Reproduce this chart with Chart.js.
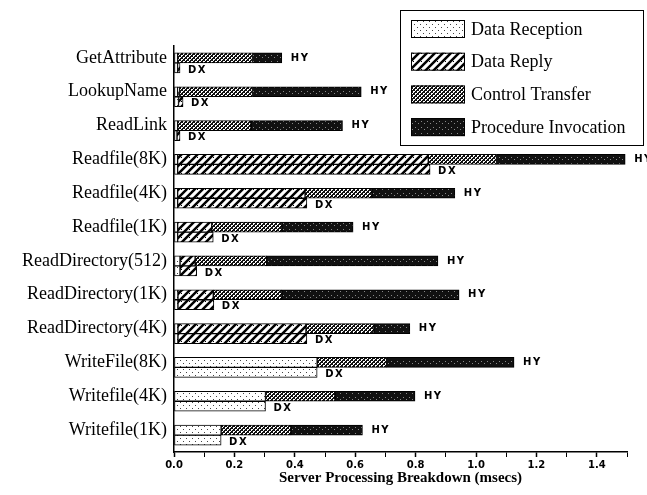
<!DOCTYPE html>
<html>
<head>
<meta charset="utf-8">
<script src="https://cdn.jsdelivr.net/npm/chart.js@4.4.1/dist/chart.umd.min.js"></script>
<style>
  body { margin: 0; background: #fff; }
  #grafico { display: block; }
</style>
</head>
<body>
<canvas id="grafico" width="647" height="495"></canvas>
<script>
// categorias (de cima para baixo)
const categorias = ['GetAttribute', 'LookupName', 'ReadLink', 'Readfile(8K)', 'Readfile(4K)', 'Readfile(1K)',
    'ReadDirectory(512)', 'ReadDirectory(1K)', 'ReadDirectory(4K)', 'WriteFile(8K)', 'Writefile(4K)', 'Writefile(1K)'];

// barra HY (msecs por componente)
const hyRecepcao = [0.012, 0.012, 0.012, 0.012, 0.012, 0.012, 0.020, 0.013, 0.013, 0.474, 0.303, 0.156];
const hyResposta = [0, 0.006, 0, 0.830, 0.422, 0.113, 0.050, 0.117, 0.424, 0, 0, 0];
const hyControle = [0.248, 0.242, 0.243, 0.226, 0.221, 0.232, 0.237, 0.227, 0.225, 0.230, 0.230, 0.231];
const hyProcedimento = [0.097, 0.360, 0.303, 0.426, 0.275, 0.236, 0.567, 0.587, 0.119, 0.422, 0.265, 0.237];

// barra DX
const dxRecepcao = [0.012, 0.015, 0.010, 0.012, 0.012, 0.012, 0.020, 0.013, 0.013, 0.474, 0.303, 0.156];
const dxResposta = [0.008, 0.015, 0.010, 0.836, 0.428, 0.118, 0.055, 0.119, 0.427, 0, 0, 0];

const nomesLegenda = ['Data Reception', 'Data Reply', 'Control Transfer', 'Procedure Invocation'];

function criarPadrao(tam, desenhar) {
    const c = document.createElement('canvas');
    c.width = tam;
    c.height = tam;
    const g = c.getContext('2d');
    desenhar(g, tam);
    return g.createPattern(c, 'repeat');
}

const padRecepcao = criarPadrao(6, (g) => {
    g.fillStyle = '#fff';
    g.fillRect(0, 0, 6, 6);
    g.fillStyle = '#444';
    g.fillRect(0, 0, 1, 1);
    g.fillRect(3, 3, 1, 1);
});
const padResposta = criarPadrao(8, (g) => {
    g.fillStyle = '#fff';
    g.fillRect(0, 0, 8, 8);
    g.strokeStyle = '#000';
    g.lineWidth = 2.5;
    g.beginPath();
    g.moveTo(-1, 9); g.lineTo(9, -1);
    g.moveTo(-1, 1); g.lineTo(1, -1);
    g.moveTo(7, 9); g.lineTo(9, 7);
    g.stroke();
    g.fillStyle = '#000';
    g.fillRect(5, 5, 1, 1);
});
const padControle = criarPadrao(4, (g) => {
    g.fillStyle = '#fff';
    g.fillRect(0, 0, 4, 4);
    g.fillStyle = '#111';
    for (let i = 0; i < 4; i++) {
        g.fillRect(i, i, 1, 1);
        g.fillRect(3 - i, i, 1, 1);
    }
    g.fillRect(0, 2, 1, 1);
    g.fillRect(2, 0, 1, 1);
});
const padProcedimento = criarPadrao(6, (g) => {
    g.fillStyle = '#111';
    g.fillRect(0, 0, 6, 6);
    g.fillStyle = '#888';
    g.fillRect(1, 1, 1, 1);
    g.fillRect(4, 3, 1, 1);
});
const padroes = [padRecepcao, padResposta, padControle, padProcedimento];

function serie(dados, padrao, pilha) {
    return {
        data: dados,
        backgroundColor: padrao,
        borderColor: '#000',
        borderWidth: 1,
        borderSkipped: false,
        stack: pilha,
        barThickness: 10
    };
}

// rótulos HY / DX e legenda desenhados por cima
const pluginExtras = {
    id: 'extras',
    afterDatasetsDraw(chart) {
        const ctx = chart.ctx;
        const x = chart.scales.x;
        ctx.save();
        ctx.fillStyle = '#000';
        ctx.font = 'bold 10px "DejaVu Sans"';
        ctx.letterSpacing = '1.5px';
        ctx.textBaseline = 'middle';
        ctx.textAlign = 'left';
        const metaHY = chart.getDatasetMeta(3);
        const metaDX = chart.getDatasetMeta(5);
        categorias.forEach((c, i) => {
            const totHY = hyRecepcao[i] + hyResposta[i] + hyControle[i] + hyProcedimento[i];
            const totDX = dxRecepcao[i] + dxResposta[i];
            ctx.fillText('HY', x.getPixelForValue(totHY) + 9, metaHY.data[i].y);
            ctx.fillText('DX', x.getPixelForValue(totDX) + 8, metaDX.data[i].y + 2);
        });

        // legenda
        ctx.letterSpacing = '0px';
        ctx.fillStyle = '#fff';
        ctx.fillRect(400, 10, 244, 136);
        ctx.strokeStyle = '#000';
        ctx.lineWidth = 1;
        ctx.strokeRect(400.5, 10.5, 243, 135);
        ctx.font = '18px "Liberation Serif"';
        nomesLegenda.forEach((nome, i) => {
            const cy = 29 + i * 32.7;
            ctx.fillStyle = padroes[i];
            ctx.fillRect(411, cy - 9, 54, 18);
            ctx.strokeRect(411.5, cy - 8.5, 53, 17);
            ctx.fillStyle = '#000';
            ctx.fillText(nome, 471, cy + 1);
        });
        ctx.restore();
    }
};

new Chart(document.getElementById('grafico'), {
    type: 'bar',
    data: {
        labels: categorias,
        datasets: [
            serie(hyRecepcao, padRecepcao, 'HY'),
            serie(hyResposta, padResposta, 'HY'),
            serie(hyControle, padControle, 'HY'),
            serie(hyProcedimento, padProcedimento, 'HY'),
            serie(dxRecepcao, padRecepcao, 'DX'),
            serie(dxResposta, padResposta, 'DX')
        ]
    },
    options: {
        indexAxis: 'y',
        responsive: false,
        animation: false,
        layout: { padding: { top: 46, right: 20, bottom: 4, left: 0 } },
        plugins: {
            legend: { display: false },
            tooltip: { enabled: false }
        },
        scales: {
            x: {
                stacked: true,
                min: 0,
                max: 1.5,
                afterFit(scale) { scale.height = 39; },
                ticks: {
                    stepSize: 0.1,
                    autoSkip: false,
                    maxRotation: 0,
                    padding: 2,
                    color: '#000',
                    font: { family: 'DejaVu Sans', size: 10, weight: 'bold' },
                    callback: (v, idx) => (idx % 2 === 0 ? Number(v).toFixed(1) : '')
                },
                grid: {
                    drawOnChartArea: false,
                    tickLength: 5,
                    tickColor: '#000',
                    tickWidth: (c) => (c.index % 2 === 0 ? 1.5 : 1)
                },
                border: { color: '#000', width: 1.5 },
                title: {
                    display: true,
                    text: 'Server Processing Breakdown (msecs)',
                    color: '#000',
                    font: { family: 'Liberation Serif', size: 15, weight: 'bold' },
                    padding: { top: 2, bottom: 4 }
                }
            },
            y: {
                stacked: true,
                afterFit(scale) { scale.width = 174; },
                ticks: {
                    color: '#000',
                    padding: 7,
                    labelOffset: -5,
                    font: { family: 'Liberation Serif', size: 18 }
                },
                grid: { display: false, drawTicks: false },
                border: { color: '#000', width: 1.5 }
            }
        }
    },
    plugins: [pluginExtras]
});
</script>
</body>
</html>
